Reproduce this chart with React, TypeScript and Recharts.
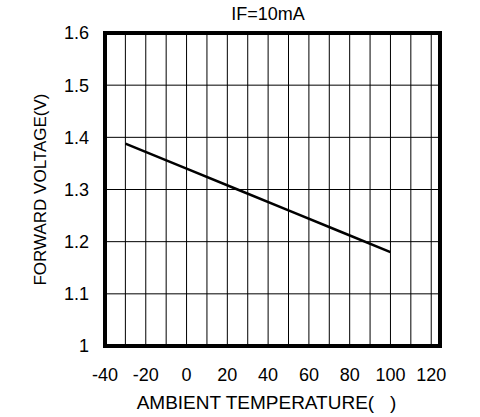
import { LineChart, Line, XAxis, YAxis, CartesianGrid, ReferenceArea } from "recharts";

const temperature = [-30, 0, 25, 50, 75, 100];
const forwardVoltage = [1.388, 1.34, 1.3, 1.26, 1.22, 1.18];

const xTicks = [-40, -30, -20, -10, 0, 10, 20, 30, 40, 50, 60, 70, 80, 90, 100, 110, 120];
const yTicks = [1, 1.1, 1.2, 1.3, 1.4, 1.5, 1.6];

const data = temperature.map((t, i) => ({ t, vf: forwardVoltage[i] }));

const font = "'Liberation Sans', Arial, sans-serif";

export default function App() {
  return (
    <div style={{ position: "fixed", left: 0, top: 0, background: "#fff", fontFamily: font }}>
      <LineChart width={480} height={417} data={data} margin={{ top: 33, right: 40, left: 0, bottom: 0 }}>
        <text x={268} y={20} textAnchor="middle" fontSize={18} fill="#000" fontFamily={font}>
          IF=10mA
        </text>
        <CartesianGrid stroke="#000" strokeWidth={1} />
        <XAxis
          dataKey="t"
          type="number"
          domain={[-40, 124.3]}
          ticks={xTicks}
          interval={0}
          tickFormatter={(v: number) => (v % 20 === 0 ? String(v) : "")}
          axisLine={false}
          tickLine={false}
          tickSize={0}
          tickMargin={22}
          tick={{ fill: "#000", fontSize: 18, fontFamily: font }}
          label={{ value: "AMBIENT TEMPERATURE(\u00a0\u00a0\u00a0)", position: "insideBottom", offset: 8, fill: "#000", fontSize: 19, fontFamily: font, dx: -6 }}
          height={71}
        />
        <YAxis
          type="number"
          domain={[1, 1.6]}
          ticks={yTicks}
          interval={0}
          axisLine={false}
          tickLine={false}
          tickSize={0}
          tickMargin={16}
          width={105}
          tick={{ fill: "#000", fontSize: 18, fontFamily: font }}
          label={{ value: "FORWARD VOLTAGE(V)", angle: -90, position: "insideLeft", offset: 40, fill: "#000", fontSize: 17, fontFamily: font, style: { textAnchor: "middle" } }}
        />
        <ReferenceArea x1={-40} x2={124.3} y1={1} y2={1.6} fill="none" fillOpacity={0} stroke="#000" strokeWidth={4} ifOverflow="visible" />
        <Line type="linear" dataKey="vf" stroke="#000" strokeWidth={2.5} dot={false} isAnimationActive={false} />
      </LineChart>
    </div>
  );
}
